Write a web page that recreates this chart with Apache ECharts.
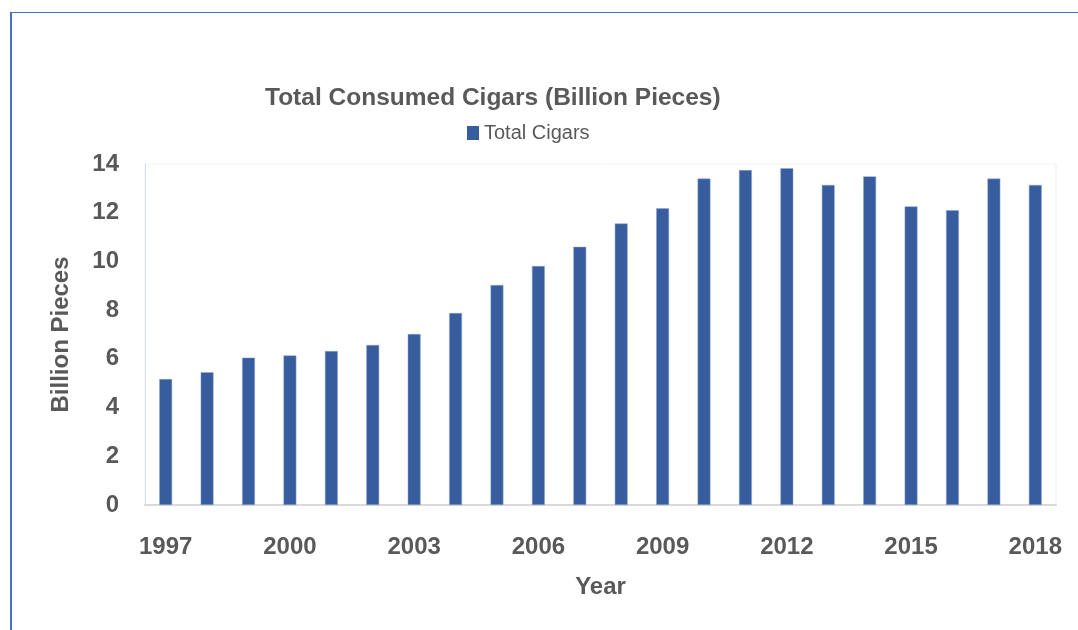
<!DOCTYPE html>
<html>
<head>
<meta charset="utf-8">
<script src="https://cdn.jsdelivr.net/npm/echarts@6/dist/echarts.min.js"></script>
<style>
  html, body { margin: 0; padding: 0; background: #ffffff; }
  #chart { width: 1078px; height: 630px; }
  #frame { position: absolute; left: 10px; top: 12px; width: 1068px; height: 618px;
           border-left: 2px solid #4472C4; border-top: 1px solid #4472C4; pointer-events: none; box-sizing: border-box; }
</style>
</head>
<body>
<div id="chart"></div>
<div id="frame"></div>
<script>
const years = ['1997','1998','1999','2000','2001','2002','2003','2004','2005','2006','2007','2008','2009','2010','2011','2012','2013','2014','2015','2016','2017','2018'];
const totalCigars = [5.17, 5.45, 6.05, 6.14, 6.32, 6.57, 7.02, 7.88, 9.03, 9.81, 10.60, 11.56, 12.18, 13.40, 13.75, 13.83, 13.14, 13.49, 12.26, 12.10, 13.40, 13.14];
const yTicks = { min: 0, max: 14, interval: 2 };

const txt = '#595959';
const font = 'Liberation Sans';
const chart = echarts.init(document.getElementById('chart'));
chart.setOption({
  animation: false,
  title: {
    text: 'Total Consumed Cigars (Billion Pieces)',
    left: 265, top: 86, padding: 0,
    textStyle: { fontFamily: font, fontSize: 24.5, fontWeight: 'bold', color: txt }
  },
  legend: {
    data: ['Total Cigars'],
    left: 467, top: 123, padding: 0,
    icon: 'rect', itemWidth: 12, itemHeight: 14, itemGap: 6,
    itemStyle: { borderWidth: 0 },
    textStyle: { fontFamily: font, fontSize: 20, color: txt }
  },
  grid: {
    left: 145, right: 22, top: 164, bottom: 125,
    show: true, borderColor: '#EEF0F6', borderWidth: 1, backgroundColor: 'transparent'
  },
  xAxis: {
    type: 'category',
    data: years,
    name: 'Year', nameLocation: 'middle', nameGap: 70,
    nameTextStyle: { fontFamily: font, fontSize: 24, fontWeight: 'bold', color: txt },
    axisLine: { lineStyle: { color: '#D9D9D9', width: 2 } },
    axisTick: { show: false },
    axisLabel: { interval: 2, margin: 30, fontFamily: font, fontSize: 24, fontWeight: 'bold', color: txt }
  },
  yAxis: {
    type: 'value',
    min: yTicks.min, max: yTicks.max, interval: yTicks.interval,
    name: 'Billion Pieces', nameLocation: 'middle', nameGap: 72,
    nameTextStyle: { fontFamily: font, fontSize: 24, fontWeight: 'bold', color: txt },
    axisLine: { show: true, lineStyle: { color: '#D6E0F2', width: 1 } },
    axisTick: { show: false },
    splitLine: { show: false },
    axisLabel: { margin: 26, fontFamily: font, fontSize: 24, fontWeight: 'bold', color: txt }
  },
  series: [{
    name: 'Total Cigars',
    type: 'bar',
    data: totalCigars,
    barWidth: '31%',
    itemStyle: { color: '#375D9F', borderColor: '#8FA6CF', borderWidth: 0.5 }
  }]
});
</script>
</body>
</html>
